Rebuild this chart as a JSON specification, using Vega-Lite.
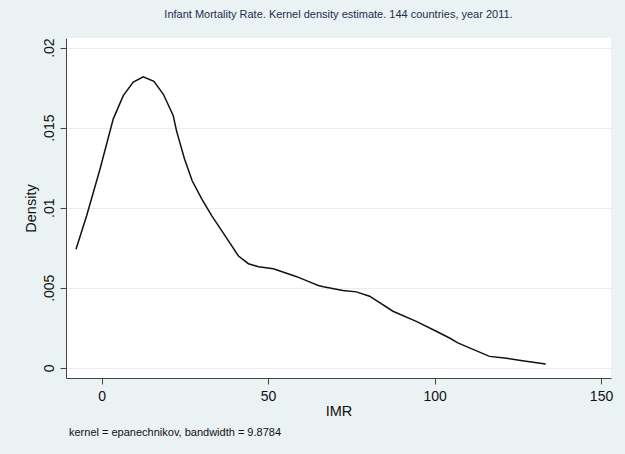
{
  "$schema": "https://vega.github.io/schema/vega-lite/v6.json",
  "width": 545,
  "height": 340,
  "autosize": {"type": "none"},
  "padding": {"left": 66, "top": 38, "right": 14, "bottom": 76},
  "background": "#EAF2F3",
  "title": {
    "text": "Infant Mortality Rate. Kernel density estimate. 144 countries, year 2011.",
    "fontSize": 11,
    "fontWeight": "normal",
    "color": "#1f2d4e",
    "anchor": "middle",
    "frame": "group",
    "offset": 18
  },
  "config": {
    "font": "Liberation Sans",
    "view": {"fill": "white", "stroke": null}
  },
  "datasets": {
    "kde": [
      {"x": -7.7, "density": 0.0074},
      {"x": -4.5, "density": 0.0095},
      {"x": -0.5, "density": 0.0124},
      {"x": 3.5, "density": 0.01555},
      {"x": 6.5, "density": 0.0170},
      {"x": 9.5, "density": 0.01785},
      {"x": 12.5, "density": 0.01818},
      {"x": 15.7, "density": 0.01789},
      {"x": 18.5, "density": 0.0171},
      {"x": 21.5, "density": 0.01576},
      {"x": 22.5, "density": 0.0148},
      {"x": 24.9, "density": 0.01304},
      {"x": 27.2, "density": 0.01168},
      {"x": 30.1, "density": 0.01053},
      {"x": 33.1, "density": 0.00949},
      {"x": 36.1, "density": 0.00855},
      {"x": 38.6, "density": 0.00777},
      {"x": 41.1, "density": 0.00698},
      {"x": 44.1, "density": 0.0065},
      {"x": 47.1, "density": 0.00631},
      {"x": 51.6, "density": 0.00619},
      {"x": 55.1, "density": 0.00594},
      {"x": 58.6, "density": 0.00569},
      {"x": 62.6, "density": 0.00535},
      {"x": 65.1, "density": 0.00514},
      {"x": 66.6, "density": 0.00506},
      {"x": 72.5, "density": 0.00483},
      {"x": 76.5, "density": 0.00474},
      {"x": 80.5, "density": 0.00447},
      {"x": 87.5, "density": 0.00353},
      {"x": 94.5, "density": 0.0029},
      {"x": 100.5, "density": 0.00228},
      {"x": 104.5, "density": 0.00186},
      {"x": 107, "density": 0.00155},
      {"x": 110.5, "density": 0.00124},
      {"x": 116.5, "density": 0.00071},
      {"x": 121, "density": 0.00061},
      {"x": 126.4, "density": 0.00044},
      {"x": 133.4, "density": 0.00023}
    ],
    "note": [
      {"label": "kernel = epanechnikov, bandwidth = 9.8784", "nx": -9.8, "ny": -0.00408}
    ]
  },
  "layer": [
    {
      "data": {"name": "kde"},
      "mark": {"type": "line", "color": "#111111", "strokeWidth": 1.5, "interpolate": "linear"},
      "encoding": {
        "x": {
          "field": "x",
          "type": "quantitative",
          "scale": {"domain": [-10.7, 153], "nice": false, "zero": false},
          "axis": {
            "title": "IMR",
            "values": [0, 50, 100, 150],
            "grid": false,
            "domainColor": "#444444",
            "tickColor": "#444444",
            "tickSize": 6,
            "labelFontSize": 14,
            "labelColor": "#111111",
            "labelPadding": 5,
            "titleFontSize": 14.5,
            "titleFontWeight": "normal",
            "titleColor": "#111111",
            "titlePadding": 1
          }
        },
        "y": {
          "field": "density",
          "type": "quantitative",
          "scale": {"domain": [-0.00064, 0.0206], "nice": false, "zero": false},
          "axis": {
            "title": "Density",
            "values": [0, 0.005, 0.01, 0.015, 0.02],
            "labelExpr": "replace(format(datum.value, '.3~f'), '0.', '.')",
            "grid": true,
            "gridColor": "#E6EEF2",
            "gridWidth": 1.2,
            "domainColor": "#444444",
            "tickColor": "#444444",
            "tickSize": 6,
            "labelAngle": -90,
            "labelAlign": "center",
            "labelBaseline": "bottom",
            "labelFontSize": 14,
            "labelColor": "#111111",
            "labelPadding": 4,
            "titleFontSize": 14.5,
            "titleFontWeight": "normal",
            "titleColor": "#111111",
            "titlePadding": 4
          }
        }
      }
    },
    {
      "data": {"name": "note"},
      "mark": {"type": "text", "align": "left", "baseline": "middle", "fontSize": 11, "color": "#111111"},
      "encoding": {
        "x": {"field": "nx", "type": "quantitative"},
        "y": {"field": "ny", "type": "quantitative"},
        "text": {"field": "label"}
      }
    }
  ]
}
